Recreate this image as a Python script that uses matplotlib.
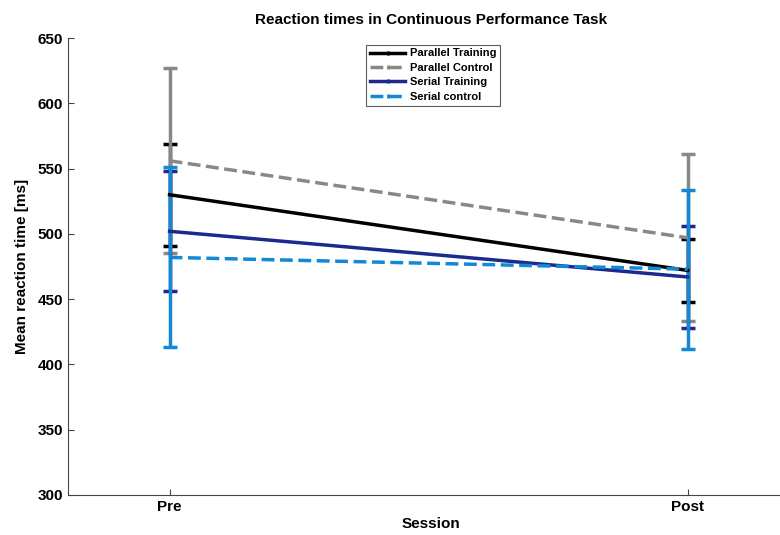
import matplotlib.pyplot as plt
from matplotlib.lines import Line2D
import numpy as np

plt.rcParams['font.family'] = ['Liberation Sans', 'DejaVu Sans']
plt.rcParams['font.weight'] = 'bold'

sessions = ['Pre', 'Post']
labels = ['Parallel Training', 'Parallel Control', 'Serial Training', 'Serial control']
means = [
    [530, 472],  # parallel training
    [556, 497],  # parallel control
    [502, 467],  # serial training
    [482, 473],  # serial control
]
errs = [
    [39, 24],
    [71, 64],
    [46, 39],
    [69, 61],
]
colors = ['#000000', '#888888', '#1b2a8c', '#1388d6']
styles = ['-', '--', '-', '--']

fig = plt.figure(figsize=(7.8, 5.35), dpi=100)
ax = fig.add_axes([0.0872, 0.0748, 0.93, 0.854])

x = np.arange(1, len(sessions) + 1)
handles = []
for m, e, c, ls, lab in zip(means, errs, colors, styles, labels):
    ax.errorbar(x, m, yerr=e, color=c, ls=ls, lw=2.5, elinewidth=2.5,
                capsize=5, capthick=2.5)
    # legend entry: plain line with a small notch in the middle
    handles.append(Line2D([], [], color=c, ls=ls, lw=2.5, marker='|',
                          markersize=3, markeredgewidth=2, markevery=[1],
                          label=lab))

ax.set_xlim(0.804, 2.204)
ax.set_ylim(300, 650)
ax.set_xticks(x)
ax.set_xticklabels(sessions)
ax.set_yticks(np.arange(300, 651, 50))
ax.tick_params(direction='in', labelsize=11, length=4, color='#444444')
for s in ['top', 'right']:
    ax.spines[s].set_visible(False)
for s in ['left', 'bottom']:
    ax.spines[s].set_color('#444444')

ax.set_title('Reaction times in Continuous Performance Task', fontsize=11,
             fontweight='bold', pad=10)
ax.set_xlabel('Session', fontsize=11, fontweight='bold', labelpad=2)
ax.set_ylabel('Mean reaction time [ms]', fontsize=11, fontweight='bold', labelpad=6)

leg = ax.legend(handles=handles, loc='upper left', bbox_to_anchor=(0.403, 0.998),
                fontsize=8, frameon=True, fancybox=False, handlelength=3.2,
                borderpad=0.35, labelspacing=0.4, handletextpad=0.4)
leg.get_frame().set_edgecolor('#333333')
leg.get_frame().set_linewidth(0.8)

fig.savefig('out.png', dpi=100)
